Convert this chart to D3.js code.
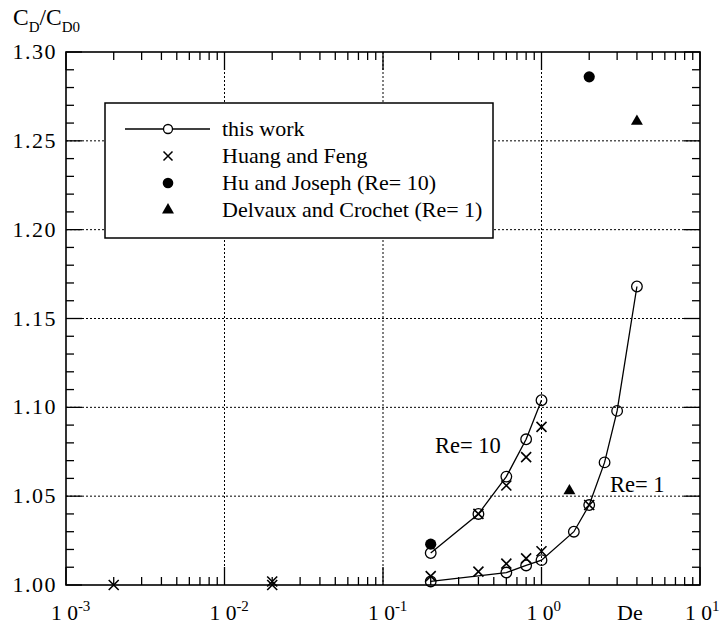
<!DOCTYPE html>
<html>
<head>
<meta charset="utf-8">
<script src="https://cdn.jsdelivr.net/npm/d3@7"></script>
<style>
  html, body { margin: 0; padding: 0; background: #fff; }
  svg { display: block; }
  text { font-family: "Liberation Serif", "Times New Roman", serif; fill: #000; }
</style>
</head>
<body>
<svg id="chart" width="722" height="627"></svg>
<script>
// Drag ratio C_D/C_D0 versus Deborah number (log scale)

// this work, Re = 10
const workRe10De = [0.2, 0.4, 0.6, 0.8, 1.0];
const workRe10Cd = [1.018, 1.040, 1.061, 1.082, 1.104];

// this work, Re = 1
const workRe1De = [0.2, 0.6, 0.8, 1.0, 1.6, 2.0, 2.5, 3.0, 4.0];
const workRe1Cd = [1.002, 1.007, 1.011, 1.014, 1.030, 1.045, 1.069, 1.098, 1.168];

// Huang and Feng
const huangDe = [0.002, 0.02, 0.02, 0.2, 0.4, 0.6, 0.8, 1.0, 2.0, 0.4, 0.6, 0.8, 1.0];
const huangCd = [1.000, 1.000, 1.002, 1.005, 1.0075, 1.012, 1.015, 1.019, 1.045, 1.040, 1.056, 1.072, 1.089];

// Hu and Joseph (Re = 10)
const huDe = [0.2, 2.0];
const huCd = [1.023, 1.286];

// Delvaux and Crochet (Re = 1)
const delvauxDe = [1.5, 4.0];
const delvauxCd = [1.053, 1.261];

// axis tick labels
const yTickValues = [1.00, 1.05, 1.10, 1.15, 1.20, 1.25, 1.30];
const xDecades = [-3, -2, -1, 0, 1];

const legendLabels = ["this work", "Huang and Feng", "Hu and Joseph (Re= 10)", "Delvaux and Crochet (Re= 1)"];

const svg = d3.select("#chart");
const plotL = 66, plotR = 700, plotT = 52, plotB = 585;

const x = d3.scaleLog().domain([1e-3, 1e1]).range([plotL, plotR]);
const y = d3.scaleLinear().domain([1.00, 1.30]).range([plotB, plotT]);

// dotted grid
const grid = svg.append("g").attr("stroke", "#000").attr("stroke-width", 1)
  .attr("stroke-dasharray", "2,2");
[1.05, 1.10, 1.15, 1.20, 1.25].forEach(v => {
  grid.append("line").attr("x1", plotL).attr("x2", plotR)
    .attr("y1", y(v)).attr("y2", y(v));
});
[1e-2, 1e-1, 1e0].forEach(v => {
  grid.append("line").attr("x1", x(v)).attr("x2", x(v))
    .attr("y1", plotT).attr("y2", plotB);
});

// frame
svg.append("rect").attr("x", plotL).attr("y", plotT)
  .attr("width", plotR - plotL).attr("height", plotB - plotT)
  .attr("fill", "none").attr("stroke", "#000").attr("stroke-width", 1.6);

// ticks (pointing inward on all four sides)
const ticks = svg.append("g").attr("stroke", "#000").attr("stroke-width", 1.3);
const yMinor = d3.range(0, 31).map(i => 1 + i * 0.01);
yMinor.forEach((v, i) => {
  const len = (i % 5 === 0) ? 16 : 8;
  ticks.append("line").attr("x1", plotL).attr("x2", plotL + len).attr("y1", y(v)).attr("y2", y(v));
  ticks.append("line").attr("x1", plotR).attr("x2", plotR - len).attr("y1", y(v)).attr("y2", y(v));
});
const xTickVals = [];
for (let d = -3; d < 1; d++) {
  for (let m = 1; m <= 9; m++) xTickVals.push({ v: m * Math.pow(10, d), major: m === 1 });
}
xTickVals.push({ v: 10, major: true });
xTickVals.forEach(t => {
  const len = t.major ? 18 : 8;
  ticks.append("line").attr("x1", x(t.v)).attr("x2", x(t.v)).attr("y1", plotB).attr("y2", plotB - len);
  ticks.append("line").attr("x1", x(t.v)).attr("x2", x(t.v)).attr("y1", plotT).attr("y2", plotT + len);
});

// y tick labels
svg.append("g").selectAll("text").data(yTickValues).join("text")
  .attr("x", 57).attr("y", d => y(d) + 7)
  .attr("text-anchor", "end")
  .attr("font-size", 22)
  .attr("letter-spacing", 1.5)
  .text(d => d.toFixed(2));

// x tick labels: "1 0" with superscript exponent
xDecades.forEach(e => {
  const t = svg.append("text")
    .attr("x", x(Math.pow(10, e)) - 15).attr("y", 620)
    .attr("font-size", 21.5);
  t.append("tspan").text("1 0");
  t.append("tspan").attr("dy", -9).attr("font-size", 15).text(String(e));
});
svg.append("text").attr("x", 617).attr("y", 620).attr("font-size", 22).text("De");

// axis title
const title = svg.append("text").attr("x", 13).attr("y", 25).attr("font-size", 23.5);
title.append("tspan").text("C");
title.append("tspan").attr("dy", 7).attr("font-size", 15).text("D");
title.append("tspan").attr("dy", -7).text("/C");
title.append("tspan").attr("dy", 7).attr("font-size", 15).text("D0");

// series
const line = d3.line().x(d => x(d[0])).y(d => y(d[1]));
const marks = svg.append("g");

function drawWork(xs, ys) {
  const pts = xs.map((v, i) => [v, ys[i]]);
  marks.append("path").attr("d", line(pts)).attr("fill", "none")
    .attr("stroke", "#000").attr("stroke-width", 1.3);
  marks.append("g").selectAll("circle").data(pts).join("circle")
    .attr("cx", d => x(d[0])).attr("cy", d => y(d[1])).attr("r", 5.3)
    .attr("fill", "none").attr("stroke", "#000").attr("stroke-width", 1.3);
}
drawWork(workRe10De, workRe10Cd);
drawWork(workRe1De, workRe1Cd);

function crossPath(cx, cy, h) {
  return `M${cx - h},${cy - h}L${cx + h},${cy + h}M${cx - h},${cy + h}L${cx + h},${cy - h}`;
}
marks.append("g").selectAll("path").data(huangDe.map((v, i) => [v, huangCd[i]])).join("path")
  .attr("d", d => crossPath(x(d[0]), y(d[1]), 5))
  .attr("stroke", "#000").attr("stroke-width", 1.6).attr("fill", "none");

marks.append("g").selectAll("circle").data(huDe.map((v, i) => [v, huCd[i]])).join("circle")
  .attr("cx", d => x(d[0])).attr("cy", d => y(d[1])).attr("r", 5.6).attr("fill", "#000");

const tri = d3.symbol().type(d3.symbolTriangle).size(62);
marks.append("g").selectAll("path").data(delvauxDe.map((v, i) => [v, delvauxCd[i]])).join("path")
  .attr("d", tri)
  .attr("transform", d => `translate(${x(d[0])},${y(d[1])})`)
  .attr("fill", "#000");

// curve labels
svg.append("text").attr("x", 435).attr("y", 453).attr("font-size", 22.5).text("Re= 10");
svg.append("text").attr("x", 610).attr("y", 492).attr("font-size", 22.5).text("Re= 1");

// legend
const lg = svg.append("g");
lg.append("rect").attr("x", 105).attr("y", 103).attr("width", 388).attr("height", 135)
  .attr("fill", "#fff").attr("stroke", "#000").attr("stroke-width", 1.5);
const rowY = [129, 156, 183, 210];
lg.append("line").attr("x1", 125).attr("x2", 210).attr("y1", rowY[0]).attr("y2", rowY[0])
  .attr("stroke", "#000").attr("stroke-width", 1.3);
lg.append("circle").attr("cx", 168).attr("cy", rowY[0]).attr("r", 4.5)
  .attr("fill", "#fff").attr("stroke", "#000").attr("stroke-width", 1.3);
lg.append("path").attr("d", crossPath(168, rowY[1], 4.5))
  .attr("stroke", "#000").attr("stroke-width", 1.5);
lg.append("circle").attr("cx", 168).attr("cy", rowY[2]).attr("r", 5.3).attr("fill", "#000");
lg.append("path").attr("d", tri).attr("transform", `translate(168,${rowY[3]})`).attr("fill", "#000");
lg.selectAll("text.lbl").data(legendLabels).join("text").attr("class", "lbl")
  .attr("x", 222).attr("y", (d, i) => rowY[i] + 7)
  .attr("font-size", 22)
  .text(d => d);
</script>
</body>
</html>
